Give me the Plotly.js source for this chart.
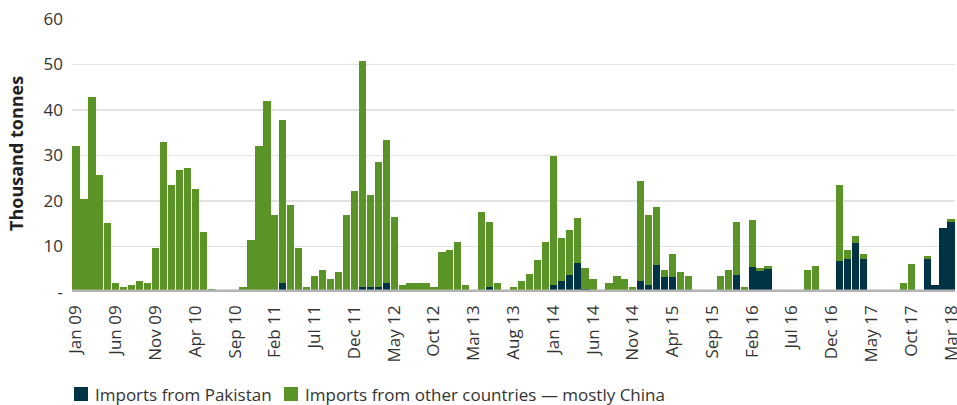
<!DOCTYPE html>
<html>
<head>
<meta charset="utf-8">
<script src="https://cdn.plot.ly/plotly-3.0.1.min.js"></script>
<style>
  html, body { margin: 0; padding: 0; background: #ffffff; }
  #chart { width: 957px; height: 405px; }
</style>
</head>
<body>
<div id="chart"></div>
<script>
// Months Jan 09 .. Mar 18
const monthNames = ["Jan","Feb","Mar","Apr","May","Jun","Jul","Aug","Sep","Oct","Nov","Dec"];
const months = [];
for (let y = 9; y <= 18; y++) {
  for (let m = 0; m < 12; m++) {
    if (y === 18 && m > 2) break;
    months.push(monthNames[m] + " " + String(y).padStart(2, "0"));
  }
}

// Imports from Pakistan (thousand tonnes)
const pakistan = [
  0,0,0,0,0,0,0,0,0,0,0,0,            // 2009
  0,0,0,0,0,0,0,0,0,0,0,0,            // 2010
  0,0,2.0,0.5,0,0,0,0,0,0,0,0,        // 2011
  1.2,1.2,1.2,2.0,0,0,0,0,0,0,0,0,    // 2012
  0,0,0,0.5,1.2,0,0,0,0,0,0,0,        // 2013
  1.6,2.5,3.8,6.4,0.7,0,0,0,0,0,0,2.5,// 2014
  1.6,6.0,3.4,3.4,0,0,0,0,0,0,0,3.8,  // 2015
  0,5.6,4.7,5.1,0,0,0,0,0,0,0,0,      // 2016
  6.8,7.3,10.8,7.3,0,0,0,0,0,0,0,7.3, // 2017
  1.6,14.1,15.4                       // 2018
];

// Imports from other countries — mostly China (thousand tonnes)
const other = [
  32.0,20.4,42.8,25.7,15.2,2.0,1.2,1.6,2.5,2.0,9.7,32.9,   // 2009
  23.5,26.8,27.2,22.6,13.2,0.7,0,0,0,1.2,11.4,32.0,        // 2010
  41.9,16.9,35.9,18.6,9.7,1.2,3.6,4.9,2.9,4.4,16.9,22.2,   // 2011
  49.6,20.1,27.3,31.3,16.5,1.6,2.0,2.0,2.0,1.2,8.8,9.2,    // 2012
  11.0,1.6,0,17.1,14.2,2.0,0,1.2,2.5,4.0,7.1,11.0,         // 2013
  28.2,9.4,9.8,9.8,4.6,2.9,0,2.0,3.6,2.9,1.2,21.9,         // 2014
  15.3,12.7,1.5,5.0,4.4,3.6,0,0,0,3.6,4.9,11.6,            // 2015
  1.2,10.2,0.6,0.6,0,0,0,0,4.9,5.7,0,0,                    // 2016
  16.7,2.0,1.5,1.1,0,0,0,0,2.0,6.2,0,0.6,                  // 2017
  0,0,0.6                                                  // 2018
];

const xTickLabels = months.filter((_, i) => i % 5 === 0);
const yTickValues = [0, 10, 20, 30, 40, 50, 60];
const yTickLabels = ["-", "10", "20", "30", "40", "50", "60"];

const seriesNames = ["Imports from Pakistan", "Imports from other countries \u2014 mostly China"];
const seriesColors = ["#003345", "#5a9426"];
const yTitle = "Thousand tonnes";

const traces = [
  { type: "bar", name: seriesNames[0], x: months, y: pakistan,
    marker: { color: seriesColors[0] }, showlegend: false },
  { type: "bar", name: seriesNames[1], x: months, y: other,
    marker: { color: seriesColors[1] }, showlegend: false }
];

const font = "'Open Sans', 'Noto Sans', sans-serif";

// plot-area geometry (pixels) used to place the custom legend / title in paper coords
const M = { l: 72, r: 2, t: 19, b: 113 };
const W = 957, H = 405;
const pw = W - M.l - M.r, ph = H - M.t - M.b;
const px = p => (p - M.l) / pw;
const py = p => (H - M.b - p) / ph;

const legendItems = [
  { sq: 74, text: 92.5 },
  { sq: 284, text: 302.5 }
];
const shapes = [{
  type: "line", xref: "paper", yref: "y",
  x0: 0, x1: 1, y0: 0, y1: 0,
  line: { color: "#b3b3b3", width: 5 },
  layer: "above"
}];
const annotations = [];
legendItems.forEach((it, i) => {
  shapes.push({
    type: "rect", xref: "paper", yref: "paper",
    x0: px(it.sq), x1: px(it.sq + 14), y0: py(401), y1: py(387),
    fillcolor: seriesColors[i], line: { width: 0 }
  });
  annotations.push({
    xref: "paper", yref: "paper", x: px(it.text), y: py(394.5),
    xanchor: "left", yanchor: "middle", showarrow: false,
    text: seriesNames[i], font: { family: font, size: 17, color: "#333333" }
  });
});
// y-axis title
annotations.push({
  xref: "paper", yref: "paper", x: px(15.5), y: py(153.5),
  xanchor: "center", yanchor: "middle", showarrow: false, textangle: -90,
  text: "<b>" + yTitle + "</b>", font: { family: font, size: 18, color: "#222222" }
});

const layout = {
  width: W, height: H,
  margin: M,
  paper_bgcolor: "#ffffff", plot_bgcolor: "#ffffff",
  barmode: "stack",
  bargap: 0.09,
  font: { family: font, size: 17, color: "#333333" },
  xaxis: {
    type: "category",
    categoryorder: "array", categoryarray: months,
    tickmode: "array", tickvals: xTickLabels, ticktext: xTickLabels,
    tickangle: -90,
    tickfont: { family: font, size: 17, color: "#333333" },
    showgrid: false, zeroline: false, showline: false, ticks: "",
    ticklabelstandoff: 9,
    range: [-0.5, months.length - 0.5],
    automargin: false,
    fixedrange: true
  },
  yaxis: {
    range: [0, 60],
    tickmode: "array", tickvals: yTickValues, ticktext: yTickLabels,
    tickfont: { family: font, size: 17, color: "#333333" },
    showgrid: true, gridcolor: "#e2e2e2", gridwidth: 1.5,
    zeroline: false, showline: false, ticks: "",
    ticklabelstandoff: 8,
    automargin: false,
    fixedrange: true
  },
  shapes: shapes,
  annotations: annotations,
  showlegend: false
};

Plotly.newPlot("chart", traces, layout, { displayModeBar: false, staticPlot: true });
</script>
</body>
</html>
